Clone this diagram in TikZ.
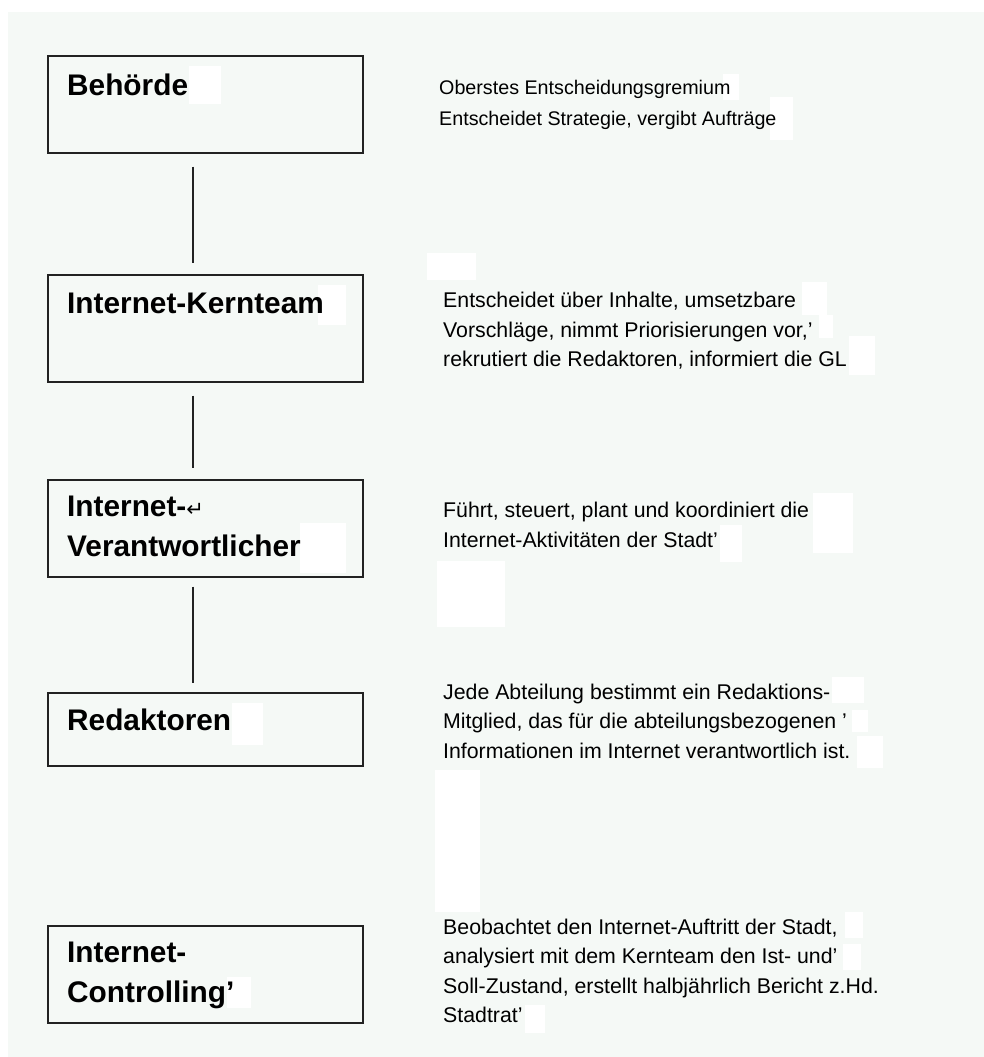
\documentclass[tikz,border=0pt]{standalone}
\usepackage{fontspec}
\setmainfont{Liberation Sans}
\newfontfamily\dvs{DejaVu Sans}
\definecolor{bgc}{RGB}{245,249,246}
\definecolor{linec}{RGB}{34,34,34}
\begin{document}
\begin{tikzpicture}[x=1pt,y=-1pt,
  box/.style={draw=linec, line width=1.6pt, rectangle, inner sep=0pt, anchor=north west, minimum width=315pt},
  title/.style={anchor=north west, inner sep=0pt, align=left, text=black, font=\bfseries\fontsize{29.8}{39.3}\selectfont},
  desc/.style={anchor=north west, inner sep=0pt, align=left, text=black, font=\fontsize{21.3}{29.5}\selectfont},
  conn/.style={draw=linec, line width=1.6pt},
  patch/.style={fill=white}]
\useasboundingbox (0,0) rectangle (984,1057);
\fill[bgc] (8,12) rectangle (984,1057);
% white patches
\foreach \a/\b/\c/\d in {189/66/221/104, 723/74/739/100, 770/97/793/140, 427/253/476/280,
  318/285/346/325, 802/282/827/315, 819/315/833/338, 849/336/875/375,
  813/493/853/553, 720/525/742/562, 437/561/505/627, 300/523/346/573,
  232/703/263/745, 832/677/864/703, 852/710/868/732, 857/736/883/768,
  435/770/480/912, 845/912/863/938, 843/944/861/970, 525/1005/545/1033,
  227/977/251/1008}
  \fill[patch] (\a,\b) rectangle (\c,\d);
% boxes
\node[box, minimum height=97pt]  (b1) at (47,55)  {};
\node[box, minimum height=107pt] (b2) at (47,274) {};
\node[box, minimum height=97pt]  (b3) at (47,479) {};
\node[box, minimum height=73pt]  (b4) at (47,692) {};
\node[box, minimum height=97pt]  (b5) at (47,925) {};
% connectors
\draw[conn] ([xshift=-12.5pt,yshift=-13pt]b1.south) -- ([xshift=-12.5pt,yshift=11pt]b2.north);
\draw[conn] ([xshift=-12.5pt,yshift=-13pt]b2.south) -- ([xshift=-12.5pt,yshift=11pt]b3.north);
\draw[conn] ([xshift=-12.5pt,yshift=-9pt]b3.south) -- ([xshift=-12.5pt,yshift=9pt]b4.north);
% titles
\node[title] (t1) at (67,72)    {\rule{0pt}{23pt}Behörde};
\node[title] (t2) at (67,290.3) {\rule{0pt}{23pt}Internet-Kernteam};
\node[title] (t3) at (67,493.7) {\rule{0pt}{23pt}Internet-{\dvs\mdseries\fontsize{21}{21}\selectfont ↵}\\Verantwortlicher};
\node[title] (t4) at (67,707.7) {\rule{0pt}{23pt}Redaktoren};
\node[title] (t5) at (67,939.7) {\rule{0pt}{23pt}Internet-\\Controlling'};
% descriptions
\node[desc, font=\fontsize{19.7}{30.5}\selectfont] (d1) at (439,78.6) {\rule{0pt}{16pt}Oberstes Entscheidungsgremium\\Entscheidet Strategie, vergibt Aufträge};
\node[desc] (d2) at (443,291.3) {\rule{0pt}{16pt}Entscheidet über Inhalte, umsetzbare\\Vorschläge, nimmt Priorisierungen vor,'\\rekrutiert die Redaktoren, informiert die GL};
\node[desc] (d3) at (443,501.3) {\rule{0pt}{16pt}Führt, steuert, plant und koordiniert die\\Internet-Aktivitäten der Stadt'};
\node[desc] (d4) at (443,683) {\rule{0pt}{16pt}Jede Abteilung bestimmt ein Redaktions-\\Mitglied, das für die abteilungsbezogenen '\\Informationen im Internet verantwortlich ist.};
\node[desc] (d5) at (443,918) {\rule{0pt}{16pt}Beobachtet den Internet-Auftritt der Stadt,\\analysiert mit dem Kernteam den Ist- und'\\Soll-Zustand, erstellt halbjährlich Bericht z.Hd.\\Stadtrat'};
\end{tikzpicture}
\end{document}
